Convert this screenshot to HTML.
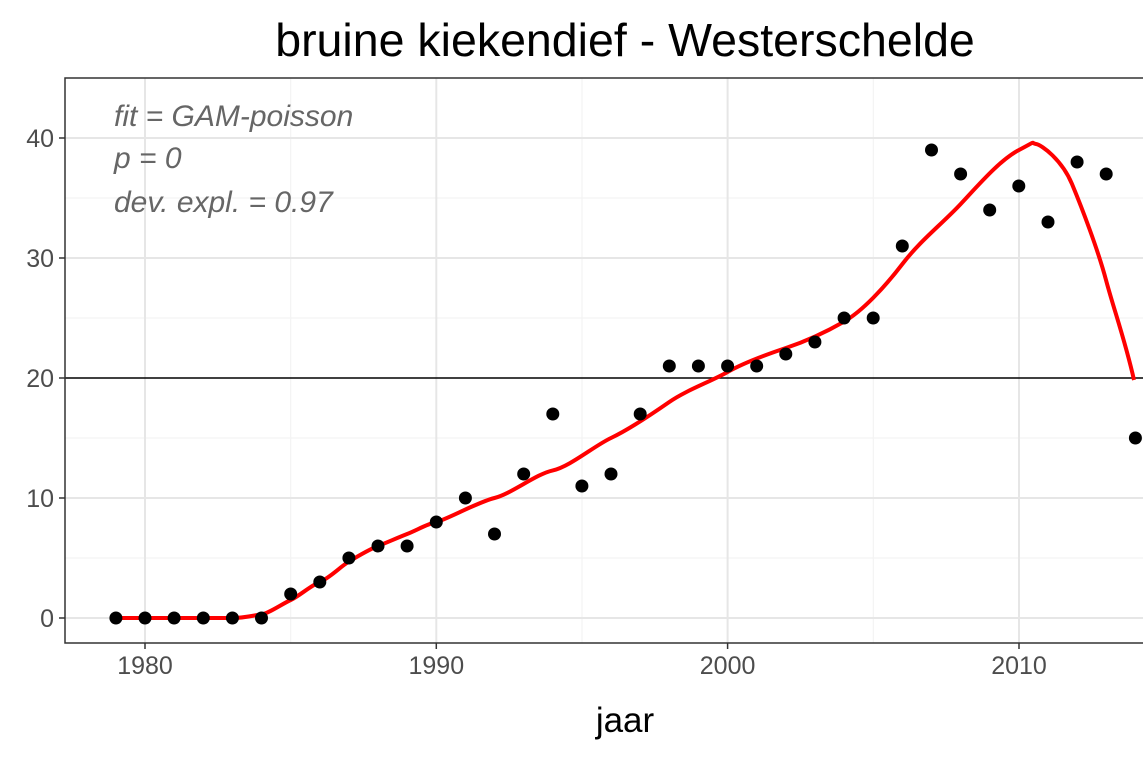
<!DOCTYPE html>
<html><head><meta charset="utf-8"><style>body{margin:0;background:#fff}svg{display:block}</style></head>
<body>
<svg width="1143" height="762" xmlns="http://www.w3.org/2000/svg" font-family="Liberation Sans, sans-serif">
<rect width="1143" height="762" fill="#fff"/>
<g stroke="#f3f3f3" stroke-width="1.2">
<line x1="65" x2="1143" y1="558" y2="558"/><line x1="65" x2="1143" y1="438" y2="438"/><line x1="65" x2="1143" y1="318" y2="318"/><line x1="65" x2="1143" y1="198" y2="198"/><line x1="65" x2="1143" y1="78" y2="78"/>
<line x1="290.7" x2="290.7" y1="78" y2="643"/><line x1="582" x2="582" y1="78" y2="643"/><line x1="873.3" x2="873.3" y1="78" y2="643"/>
</g>
<g stroke="#e6e6e6" stroke-width="2">
<line x1="65" x2="1143" y1="618" y2="618"/><line x1="65" x2="1143" y1="498" y2="498"/><line x1="65" x2="1143" y1="258" y2="258"/><line x1="65" x2="1143" y1="138" y2="138"/>
<line x1="145" x2="145" y1="78" y2="643"/><line x1="436.3" x2="436.3" y1="78" y2="643"/><line x1="727.6" x2="727.6" y1="78" y2="643"/><line x1="1019" x2="1019" y1="78" y2="643"/>
</g>
<line x1="65" x2="1143" y1="378" y2="378" stroke="#000" stroke-width="1.5"/>
<path d="M115.9,618 L232.4,618 C245,618 255,615 261.5,614.4 S282,604 290.7,600 S310,586 319.8,582 S340,567 348.9,561.6 S368,550 378,546 S397,538 407.1,534 S427,524 436.3,522 S478,502 494.5,498 S536,474 552.8,470.4 S594,446 611,438 S652,414 669.3,402 S710,382 727.6,372 S768,354 785.9,348 S826,332 844.1,321.6 S884,288 902.4,264 S942,224 960.7,204 S1000,160 1019,150 S1030,143 1036,144 S1062,160 1072,184 S1098,250 1106,280 S1125,340 1134,380" fill="none" stroke="#ff0000" stroke-width="4"/>
<g fill="#000">
<circle cx="115.9" cy="618" r="6.5"/><circle cx="145" cy="618" r="6.5"/><circle cx="174.1" cy="618" r="6.5"/><circle cx="203.3" cy="618" r="6.5"/><circle cx="232.4" cy="618" r="6.5"/><circle cx="261.5" cy="618" r="6.5"/><circle cx="290.7" cy="594" r="6.5"/><circle cx="319.8" cy="582" r="6.5"/><circle cx="348.9" cy="558" r="6.5"/><circle cx="378" cy="546" r="6.5"/><circle cx="407.1" cy="546" r="6.5"/><circle cx="436.3" cy="522" r="6.5"/><circle cx="465.4" cy="498" r="6.5"/><circle cx="494.5" cy="534" r="6.5"/><circle cx="523.7" cy="474" r="6.5"/><circle cx="552.8" cy="414" r="6.5"/><circle cx="581.9" cy="486" r="6.5"/><circle cx="611" cy="474" r="6.5"/><circle cx="640.2" cy="414" r="6.5"/><circle cx="669.3" cy="366" r="6.5"/><circle cx="698.4" cy="366" r="6.5"/><circle cx="727.6" cy="366" r="6.5"/><circle cx="756.7" cy="366" r="6.5"/><circle cx="785.8" cy="354" r="6.5"/><circle cx="814.9" cy="342" r="6.5"/><circle cx="844.1" cy="318" r="6.5"/><circle cx="873.2" cy="318" r="6.5"/><circle cx="902.3" cy="246" r="6.5"/><circle cx="931.5" cy="150" r="6.5"/><circle cx="960.6" cy="174" r="6.5"/><circle cx="989.7" cy="210" r="6.5"/><circle cx="1018.8" cy="186" r="6.5"/><circle cx="1048" cy="222" r="6.5"/><circle cx="1077.1" cy="162" r="6.5"/><circle cx="1106.2" cy="174" r="6.5"/><circle cx="1135.4" cy="438" r="6.5"/>
</g>
<rect x="65" y="78" width="1090" height="565" fill="none" stroke="#333" stroke-width="1.5"/>
<g stroke="#333" stroke-width="1.5">
<line x1="59" x2="65" y1="618" y2="618"/><line x1="59" x2="65" y1="498" y2="498"/><line x1="59" x2="65" y1="378" y2="378"/><line x1="59" x2="65" y1="258" y2="258"/><line x1="59" x2="65" y1="138" y2="138"/>
<line x1="145" x2="145" y1="643" y2="649"/><line x1="436.3" x2="436.3" y1="643" y2="649"/><line x1="727.6" x2="727.6" y1="643" y2="649"/><line x1="1019" x2="1019" y1="643" y2="649"/>
</g>
<g fill="#4d4d4d" font-size="25" text-anchor="end">
<text x="54" y="627">0</text><text x="54" y="507">10</text><text x="54" y="387">20</text><text x="54" y="267">30</text><text x="54" y="147">40</text>
</g>
<g fill="#4d4d4d" font-size="25" text-anchor="middle">
<text x="145" y="674">1980</text><text x="436.3" y="674">1990</text><text x="727.6" y="674">2000</text><text x="1019" y="674">2010</text>
</g>
<g fill="#666" font-size="30" font-style="italic">
<text x="114" y="126">fit = GAM-poisson</text><text x="114" y="168">p = 0</text><text x="114" y="212">dev. expl. = 0.97</text>
</g>
<text x="625" y="56" font-size="46.5" text-anchor="middle" fill="#000">bruine kiekendief - Westerschelde</text>
<text x="625" y="732" font-size="35" text-anchor="middle" fill="#000">jaar</text>
</svg>
</body></html>
